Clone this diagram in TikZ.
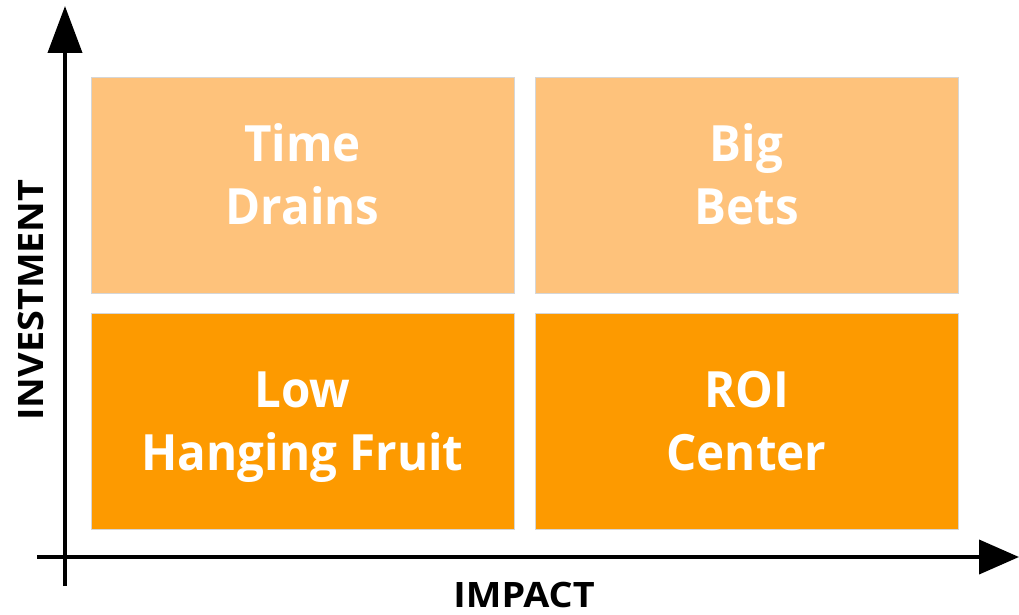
\documentclass[tikz,border=0pt]{standalone}
\usepackage{fontspec}
\setmainfont{Open Sans}
\newfontfamily\boxfont{Open Sans}[FakeStretch=0.95]
\newfontfamily\axfont{Open Sans}[FakeStretch=1.08]
\usetikzlibrary{arrows.meta}
\definecolor{lightor}{HTML}{FEC27B}
\definecolor{darkor}{HTML}{FD9A00}
\definecolor{edgegray}{HTML}{D6D6D6}
\tikzset{
  quad/.style={draw=edgegray, line width=0.8pt, minimum width=423pt, minimum height=216pt,
    inner sep=0pt},
  quadtext/.style={text=white, align=center, inner sep=0pt, text depth=0pt, anchor=south,
    font=\boxfont\bfseries\fontsize{50}{63}\selectfont},
  axis/.style={line width=4pt, draw=black},
  axlabel/.style={font=\axfont\bfseries\fontsize{35}{40}\selectfont, text=black, inner sep=0pt, anchor=base}
}
\begin{document}
\begin{tikzpicture}[x=1pt,y=-1pt]
\useasboundingbox (0,0) rectangle (1019,615);
\node[quad, fill=lightor] (td) at (302.5,185) {};
\node[quad, fill=lightor] (bb) at (746.5,185) {};
\node[quad, fill=darkor] (lh) at (302.5,421) {};
\node[quad, fill=darkor] (roi) at (746.5,421) {};
\node[quadtext] (tdt) at (td.center |- 0,225) {Time\\Drains};
\node[quadtext] (bbt) at (bb.center |- 0,225) {Big\\Bets};
\node[quadtext] (lht) at (lh.center |- 0,471) {Low\\Hanging Fruit};
\node[quadtext] (roit) at (roi.center |- 0,471) {ROI\\Center};
\coordinate (yb) at (65,586);
\coordinate (yt) at (65,6);
\coordinate (xl) at (37,557);
\coordinate (xr) at (1019,557);
\draw[axis, -{Triangle[length=47pt,width=34pt]}] (yb) -- (yt);
\draw[axis, -{Triangle[length=40pt,width=34pt]}] (xl) -- (xr);
\node[axlabel] (imp) at (524,607) {IMPACT};
\node[axlabel, rotate=90] (inv) at (43,300) {INVESTMENT};
\end{tikzpicture}
\end{document}
